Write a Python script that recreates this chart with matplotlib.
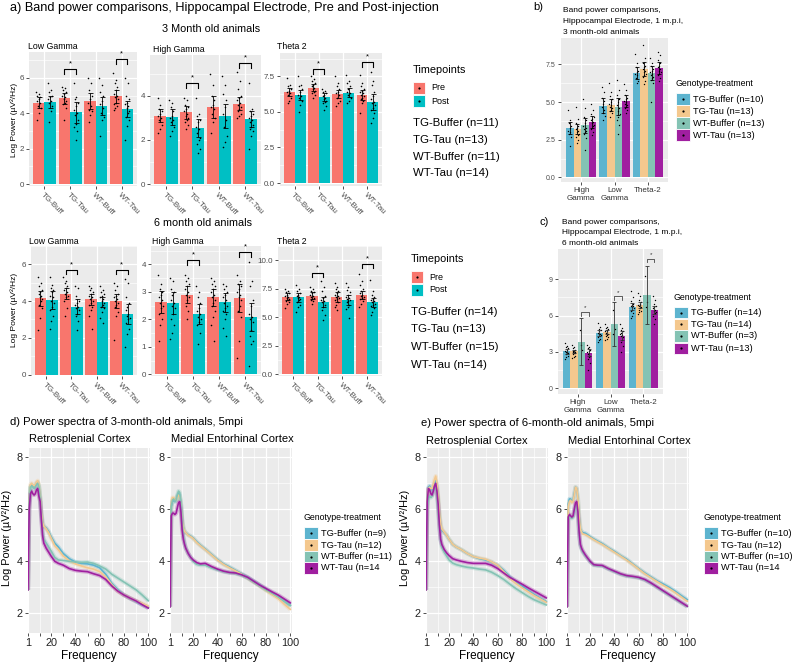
import matplotlib
matplotlib.use('Agg')
import matplotlib.pyplot as plt
from matplotlib.patches import Rectangle
import numpy as np

plt.rcParams['font.family'] = ['Liberation Sans', 'DejaVu Sans']

W, H = 795, 663

# ---------------- panel a : pre / post bars ----------------
groups = ['TG-Buff', 'TG-Tau', 'WT-Buff', 'WT-Tau']
timepoints = ['Pre', 'Post']
tp_colors = ['#F8766D', '#00BFC4']
n_labels_3m = ['TG-Buffer (n=11)', 'TG-Tau (n=13)', 'WT-Buffer (n=11)', 'WT-Tau (n=14)']
n_labels_6m = ['TG-Buffer (n=14)', 'TG-Tau (n=13)', 'WT-Buffer (n=15)', 'WT-Tau (n=14)']

# 3 month, low gamma
lg3_pre = [4.6, 4.85, 4.7, 4.95]
lg3_post = [4.65, 4.05, 4.4, 4.25]
lg3_pre_se = [0.3, 0.3, 0.45, 0.35]
lg3_post_se = [0.35, 0.6, 0.5, 0.45]
lg3_pre_pts = [[5.2, 5.1, 5.0, 4.9, 4.8, 4.7, 4.6, 4.4, 4.3, 4.0, 3.6],
               [5.5, 5.4, 5.3, 5.2, 5.1, 5.0, 4.9, 4.8, 4.7, 4.6, 4.5, 4.3, 3.6],
               [6.0, 5.7, 5.3, 5.0, 4.8, 4.6, 4.4, 4.2, 4.1, 3.9, 3.5],
               [6.3, 5.9, 5.7, 5.5, 5.3, 5.1, 5.0, 4.9, 4.8, 4.6, 4.5, 4.4, 4.3, 4.2]]
lg3_post_pts = [[5.7, 5.3, 5.2, 5.0, 4.9, 4.8, 4.7, 4.6, 4.4, 4.1, 3.5],
                [5.7, 4.9, 4.8, 4.6, 4.4, 4.2, 4.0, 3.9, 3.6, 3.4, 3.2, 3.0, 2.5],
                [6.0, 5.6, 5.2, 5.0, 4.7, 4.5, 4.3, 4.0, 3.8, 3.6, 2.7],
                [6.0, 5.7, 5.0, 4.8, 4.6, 4.5, 4.4, 4.3, 4.1, 4.0, 3.8, 3.6, 3.3, 2.5]]
lg3_sig = [(1, 6.5), (3, 7.05)]

# 3 month, high gamma
hg3_pre = [3.1, 3.25, 3.5, 3.65]
hg3_post = [3.05, 2.55, 3.1, 2.95]
hg3_pre_se = [0.3, 0.3, 0.5, 0.3]
hg3_post_se = [0.35, 0.4, 0.55, 0.35]
hg3_pre_pts = [[3.9, 3.6, 3.4, 3.3, 3.2, 3.1, 3.0, 2.9, 2.7, 2.5, 2.3],
               [3.9, 3.8, 3.6, 3.5, 3.4, 3.3, 3.2, 3.1, 3.0, 2.9, 2.8, 2.7, 2.5],
               [5.0, 4.5, 4.0, 3.8, 3.6, 3.5, 3.4, 3.2, 3.0, 2.8, 2.3],
               [5.1, 4.7, 4.3, 4.0, 3.9, 3.8, 3.7, 3.6, 3.5, 3.4, 3.3, 3.2, 3.1, 3.0]]
hg3_post_pts = [[3.8, 3.7, 3.5, 3.3, 3.1, 3.0, 2.9, 2.8, 2.6, 2.4, 2.2],
                [3.9, 3.2, 3.1, 2.9, 2.8, 2.6, 2.5, 2.3, 2.1, 2.0, 1.8, 1.6, 1.4],
                [4.9, 4.5, 4.1, 3.8, 3.5, 3.2, 2.9, 2.6, 2.2, 1.9, 1.7],
                [4.6, 3.4, 3.3, 3.2, 3.1, 3.0, 2.9, 2.8, 2.7, 2.6, 2.5, 2.4, 2.2, 1.6]]
hg3_sig = [(1, 4.58), (3, 5.5)]

# 3 month, theta 2
th3_pre = [6.4, 6.7, 6.25, 6.2]
th3_post = [6.2, 6.05, 6.35, 5.7]
th3_pre_se = [0.3, 0.25, 0.3, 0.35]
th3_post_se = [0.35, 0.3, 0.3, 0.55]
th3_pre_pts = [[7.4, 6.9, 6.8, 6.6, 6.5, 6.4, 6.3, 6.2, 6.0, 5.8, 5.6],
               [7.5, 7.3, 7.2, 7.0, 6.9, 6.8, 6.7, 6.6, 6.5, 6.4, 6.3, 6.2, 6.0],
               [7.5, 7.0, 6.8, 6.6, 6.4, 6.3, 6.2, 6.0, 5.8, 5.6, 5.4],
               [7.6, 7.0, 6.8, 6.6, 6.5, 6.4, 6.3, 6.2, 6.1, 6.0, 5.9, 5.8, 5.6, 4.9]]
th3_post_pts = [[7.5, 6.9, 6.8, 6.6, 6.4, 6.2, 6.1, 6.0, 5.8, 5.5, 5.0],
                [6.6, 6.5, 6.4, 6.3, 6.2, 6.1, 6.0, 5.9, 5.8, 5.7, 5.6, 5.4, 5.1],
                [7.6, 7.2, 7.0, 6.8, 6.6, 6.4, 6.3, 6.2, 6.0, 5.8, 5.6],
                [7.8, 7.2, 6.9, 6.4, 6.1, 5.9, 5.7, 5.6, 5.5, 5.3, 5.1, 4.9, 4.6, 4.2]]
th3_sig = [(1, 8.0), (3, 8.5)]

# 6 month, low gamma
lg6_pre = [4.15, 4.4, 4.1, 4.0]
lg6_post = [4.05, 3.7, 3.95, 3.3]
lg6_pre_se = [0.4, 0.3, 0.3, 0.4]
lg6_post_se = [0.5, 0.4, 0.25, 0.55]
lg6_pre_pts = [[5.3, 5.0, 4.8, 4.6, 4.5, 4.4, 4.3, 4.2, 4.1, 4.0, 3.8, 3.6, 3.1, 2.4],
               [5.3, 5.1, 5.0, 4.8, 4.7, 4.6, 4.5, 4.4, 4.3, 4.2, 4.0, 3.6, 3.2],
               [4.8, 4.7, 4.6, 4.5, 4.4, 4.3, 4.2, 4.1, 4.0, 3.9, 3.8, 3.7, 3.5, 3.2, 2.5],
               [5.0, 4.8, 4.6, 4.4, 4.3, 4.2, 4.1, 4.0, 3.9, 3.8, 3.7, 3.4, 3.2, 1.9]]
lg6_post_pts = [[5.3, 4.9, 4.7, 4.6, 4.5, 4.3, 4.2, 4.0, 3.9, 3.7, 3.5, 3.2, 2.9, 2.5],
                [4.8, 4.7, 4.3, 4.0, 3.9, 3.8, 3.7, 3.6, 3.5, 3.3, 3.2, 2.9, 2.4],
                [4.8, 4.6, 4.5, 4.4, 4.3, 4.2, 4.1, 4.0, 3.9, 3.8, 3.7, 3.6, 3.4, 3.1, 2.8],
                [5.2, 5.0, 4.2, 3.9, 3.7, 3.5, 3.3, 3.2, 3.1, 3.0, 2.8, 2.5, 2.2, 1.5]]
lg6_sig = [(1, 5.7), (3, 5.7)]

# 6 month, high gamma
hg6_pre = [2.65, 2.9, 2.8, 2.77]
hg6_post = [2.6, 2.2, 2.62, 2.08]
hg6_pre_se = [0.4, 0.3, 0.3, 0.5]
hg6_post_se = [0.4, 0.35, 0.35, 0.5]
hg6_pre_pts = [[3.6, 3.3, 3.1, 3.0, 2.9, 2.8, 2.7, 2.6, 2.5, 2.4, 2.2, 2.0, 1.8, 1.2],
               [3.6, 3.5, 3.4, 3.3, 3.2, 3.1, 3.0, 2.9, 2.8, 2.7, 2.5, 2.3, 2.0],
               [3.5, 3.4, 3.3, 3.2, 3.1, 3.0, 2.9, 2.8, 2.7, 2.6, 2.5, 2.3, 2.1, 1.8, 1.2],
               [3.6, 3.4, 3.3, 3.2, 3.1, 3.0, 2.9, 2.8, 2.7, 2.5, 2.3, 2.1, 1.2, 0.6]]
hg6_post_pts = [[3.5, 3.4, 3.1, 3.0, 2.9, 2.7, 2.6, 2.5, 2.4, 2.2, 2.0, 1.8, 1.5, 1.3],
                [3.2, 3.0, 2.8, 2.6, 2.4, 2.3, 2.2, 2.1, 2.0, 1.9, 1.8, 1.5, 1.1],
                [3.3, 3.2, 3.1, 3.0, 2.9, 2.8, 2.7, 2.6, 2.5, 2.4, 2.3, 2.2, 2.0, 1.7, 1.4],
                [4.1, 3.4, 3.2, 2.7, 2.5, 2.2, 2.1, 2.0, 1.9, 1.6, 1.4, 1.2, 1.1, 0.3]]
hg6_sig = [(1, 4.15), (3, 4.44)]

# 6 month, theta 2
th6_pre = [6.8, 6.9, 6.75, 6.95]
th6_post = [6.75, 6.35, 6.55, 6.3]
th6_pre_se = [0.3, 0.3, 0.45, 0.35]
th6_post_se = [0.4, 0.45, 0.45, 0.4]
th6_pre_pts = [[7.5, 7.3, 7.2, 7.1, 7.0, 6.9, 6.8, 6.7, 6.6, 6.5, 6.4, 6.3, 6.2, 5.8],
               [7.7, 7.5, 7.3, 7.2, 7.1, 7.0, 6.9, 6.8, 6.7, 6.6, 6.5, 6.4, 6.2],
               [8.0, 7.7, 7.5, 7.3, 7.1, 7.0, 6.9, 6.8, 6.7, 6.6, 6.5, 6.3, 6.1, 5.9, 5.6],
               [8.8, 8.2, 7.8, 7.5, 7.3, 7.1, 7.0, 6.9, 6.8, 6.7, 6.6, 6.4, 6.2, 5.9]]
th6_post_pts = [[7.8, 7.5, 7.3, 7.1, 7.0, 6.9, 6.8, 6.7, 6.6, 6.5, 6.3, 6.1, 5.9, 5.5],
                [8.2, 7.7, 7.3, 6.9, 6.7, 6.5, 6.4, 6.3, 6.1, 5.9, 5.6, 5.2, 4.8],
                [8.0, 7.7, 7.4, 7.2, 7.0, 6.8, 6.7, 6.6, 6.5, 6.4, 6.3, 6.1, 5.9, 5.7, 4.9],
                [8.3, 7.3, 7.0, 6.8, 6.6, 6.5, 6.4, 6.3, 6.2, 6.1, 6.0, 5.8, 5.5, 5.2]]
th6_sig = [(1, 8.9), (3, 9.7)]

# ---------------- panels b, c : genotype bars ----------------
bands = ['High\nGamma', 'Low\nGamma', 'Theta-2']
genotypes = ['TG-Buffer', 'TG-Tau', 'WT-Buffer', 'WT-Tau']
geno_colors = ['#5DB4CF', '#F4C88E', '#84C3B4', '#A01FA0']
b_labels = ['TG-Buffer (n=10)', 'TG-Tau (n=13)', 'WT-Buffer (n=13)', 'WT-Tau (n=13)']
c_labels = ['TG-Buffer (n=14)', 'TG-Tau (n=14)', 'WT-Buffer (n=3)', 'WT-Tau (n=13)']

b_means = [[3.25, 4.75, 6.95], [3.2, 4.8, 7.2], [3.45, 4.7, 6.95], [3.7, 5.05, 7.25]]
b_se = [[0.4, 0.5, 0.4], [0.35, 0.4, 0.45], [0.5, 0.55, 0.45], [0.4, 0.4, 0.4]]
b_pts = [[[4.5, 3.8, 3.6, 3.4, 3.3, 3.1, 3.0, 2.9, 2.7, 2.1],
          [6.0, 5.7, 5.3, 5.1, 4.9, 4.7, 4.5, 4.3, 4.1, 3.8],
          [8.2, 7.6, 7.3, 7.1, 7.0, 6.9, 6.8, 6.6, 6.4, 6.3]],
         [[4.7, 3.9, 3.6, 3.4, 3.3, 3.2, 3.1, 3.0, 2.9, 2.8, 2.7, 2.5, 2.3],
          [6.3, 5.7, 5.4, 5.2, 5.0, 4.9, 4.8, 4.7, 4.6, 4.5, 4.4, 4.3, 4.0],
          [8.8, 7.9, 7.6, 7.4, 7.3, 7.2, 7.1, 7.0, 6.9, 6.8, 6.7, 6.4, 6.2]],
         [[5.2, 4.6, 4.0, 3.8, 3.6, 3.4, 3.3, 3.2, 3.1, 3.0, 2.9, 2.6, 1.8],
          [6.5, 5.8, 5.5, 5.2, 5.0, 4.8, 4.6, 4.4, 4.2, 4.0, 3.8, 3.5, 2.9],
          [7.9, 7.6, 7.4, 7.2, 7.1, 7.0, 6.9, 6.8, 6.7, 6.6, 6.5, 6.3, 5.0]],
         [[4.9, 4.5, 4.2, 4.0, 3.9, 3.8, 3.7, 3.6, 3.5, 3.4, 3.2, 3.0, 2.8],
          [6.2, 5.8, 5.5, 5.3, 5.2, 5.1, 5.0, 4.9, 4.8, 4.7, 4.6, 4.5, 4.3],
          [8.3, 8.1, 7.8, 7.6, 7.4, 7.3, 7.2, 7.1, 7.0, 6.9, 6.8, 6.6, 6.4]]]

c_means = [[3.05, 4.55, 6.75], [3.05, 4.65, 6.85], [3.85, 5.3, 7.7], [2.95, 4.35, 6.45]]
c_se = [[0.2, 0.25, 0.3], [0.15, 0.2, 0.25], [1.93, 1.83, 2.4], [0.3, 0.35, 0.35]]
c_pts = [[[3.7, 3.5, 3.4, 3.3, 3.2, 3.1, 3.0, 3.0, 2.9, 2.9, 2.8, 2.7, 2.6, 2.4],
          [5.4, 5.1, 4.9, 4.8, 4.7, 4.6, 4.5, 4.5, 4.4, 4.3, 4.2, 4.1, 4.0, 3.8],
          [8.0, 7.5, 7.2, 7.0, 6.9, 6.8, 6.8, 6.7, 6.6, 6.5, 6.4, 6.2, 6.0, 5.8]],
         [[3.6, 3.4, 3.3, 3.2, 3.1, 3.1, 3.0, 3.0, 2.9, 2.9, 2.8, 2.7, 2.6, 2.5],
          [5.3, 5.1, 5.0, 4.9, 4.8, 4.7, 4.7, 4.6, 4.5, 4.4, 4.3, 4.2, 4.1, 4.0],
          [7.9, 7.6, 7.3, 7.1, 7.0, 6.9, 6.9, 6.8, 6.7, 6.6, 6.5, 6.4, 6.3, 6.1]],
         [[4.8, 3.2, 3.55], [6.5, 4.9, 4.5], [9.3, 7.1, 6.7]],
         [[3.6, 3.4, 3.3, 3.2, 3.1, 3.0, 2.9, 2.8, 2.7, 2.6, 2.4, 2.1, 1.5],
          [5.3, 5.0, 4.8, 4.7, 4.6, 4.5, 4.4, 4.3, 4.2, 4.0, 3.8, 3.5, 3.0],
          [7.6, 7.3, 7.0, 6.8, 6.7, 6.6, 6.5, 6.4, 6.3, 6.2, 6.0, 5.7, 5.3]]]
c_sig = [6.3, 7.6, 10.7]

# ---------------- panels d, e : power spectra ----------------
freqs = [1, 2, 3, 4, 5, 6, 7, 8, 9, 10, 11, 12, 13, 14, 16, 18, 20, 23, 26, 30,
         35, 40, 45, 50, 55, 60, 65, 70, 75, 80, 85, 90, 95, 100]
d_labels = ['TG-Buffer (n=9)', 'TG-Tau (n=12)', 'WT-Buffer (n=11)', 'WT-Tau (n=14']
e_labels = ['TG-Buffer (n=10)', 'TG-Tau (n=12)', 'WT-Buffer (n=10)', 'WT-Tau (n=14']

d_rsc = [[2.9, 6.2, 6.85, 6.95, 6.9, 6.85, 6.9, 7.0, 7.05, 6.9, 6.45, 5.85, 5.5, 5.35, 5.28, 5.15, 4.95, 4.7,
          4.55, 4.3, 4.1, 3.97, 3.92, 3.9, 3.85, 3.75, 3.5, 3.15, 2.9, 2.7, 2.57, 2.45, 2.33, 2.22],
         [2.9, 6.3, 6.95, 7.0, 6.95, 6.9, 6.95, 7.05, 7.1, 6.95, 6.5, 5.9, 5.5, 5.35, 5.25, 5.1, 4.9, 4.6,
          4.45, 4.2, 4.02, 3.9, 3.82, 3.75, 3.7, 3.6, 3.4, 3.1, 2.85, 2.7, 2.58, 2.47, 2.38, 2.27],
         [2.9, 6.2, 6.85, 6.9, 6.85, 6.8, 6.85, 6.95, 7.0, 6.85, 6.4, 5.7, 5.1, 4.85, 4.7, 4.55, 4.4, 4.15,
          4.05, 4.03, 4.0, 3.97, 3.96, 3.97, 3.92, 3.82, 3.7, 3.5, 3.35, 3.2, 3.05, 2.9, 2.7, 2.48],
         [2.9, 6.0, 6.6, 6.7, 6.6, 6.55, 6.6, 6.75, 6.8, 6.5, 6.3, 5.6, 5.0, 4.7, 4.5, 4.35, 4.2, 4.0,
          3.92, 3.85, 3.72, 3.65, 3.62, 3.6, 3.52, 3.45, 3.3, 3.05, 2.85, 2.7, 2.58, 2.47, 2.33, 2.2]]
d_mec = [[2.25, 6.1, 6.3, 6.35, 6.3, 6.35, 6.5, 6.6, 6.55, 6.25, 5.6, 5.3, 5.15, 5.1, 5.02, 4.97, 4.9, 4.75,
          4.62, 4.47, 4.27, 4.07, 3.9, 3.78, 3.65, 3.52, 3.38, 3.23, 3.08, 2.92, 2.78, 2.63, 2.47, 2.3],
         [2.25, 6.2, 6.45, 6.45, 6.35, 6.35, 6.45, 6.55, 6.5, 6.2, 5.6, 5.3, 5.15, 5.1, 5.0, 4.95, 4.88, 4.72,
          4.6, 4.45, 4.25, 4.05, 3.88, 3.75, 3.63, 3.5, 3.35, 3.2, 3.05, 2.88, 2.72, 2.57, 2.35, 2.15],
         [2.25, 6.1, 6.35, 6.4, 6.3, 6.35, 6.55, 6.7, 6.65, 6.2, 5.5, 5.0, 4.7, 4.5, 4.3, 4.15, 4.0, 3.88,
          3.85, 3.85, 3.75, 3.67, 3.6, 3.56, 3.53, 3.46, 3.35, 3.2, 3.05, 2.9, 2.77, 2.63, 2.47, 2.3],
         [2.25, 5.75, 5.85, 5.85, 5.8, 5.85, 6.05, 6.25, 6.3, 5.9, 5.2, 4.85, 4.65, 4.5, 4.3, 4.15, 4.05, 3.95,
          3.9, 3.92, 3.8, 3.7, 3.62, 3.57, 3.55, 3.48, 3.38, 3.23, 3.08, 2.95, 2.82, 2.7, 2.55, 2.4]]
e_rsc = [[2.9, 6.4, 6.85, 6.9, 6.8, 6.75, 6.85, 7.0, 7.1, 6.9, 6.4, 5.8, 5.4, 5.2, 5.1, 5.0, 4.85, 4.65,
          4.55, 4.45, 4.3, 4.18, 4.1, 4.05, 3.97, 3.85, 3.65, 3.4, 3.2, 3.05, 2.88, 2.72, 2.58, 2.45],
         [2.9, 6.4, 6.8, 6.85, 6.8, 6.8, 6.95, 7.15, 7.28, 7.0, 6.5, 5.9, 5.45, 5.25, 5.12, 5.0, 4.85, 4.65,
          4.55, 4.45, 4.3, 4.18, 4.12, 4.08, 3.98, 3.85, 3.6, 3.35, 3.15, 2.98, 2.83, 2.68, 2.55, 2.42],
         [2.9, 6.1, 6.45, 6.5, 6.45, 6.5, 6.7, 6.85, 6.9, 6.6, 6.0, 5.3, 4.8, 4.55, 4.35, 4.2, 4.05, 3.93,
          3.87, 3.82, 3.77, 3.74, 3.7, 3.67, 3.58, 3.45, 3.3, 3.12, 2.95, 2.8, 2.65, 2.52, 2.42, 2.32],
         [2.9, 6.3, 6.8, 6.75, 6.6, 6.55, 6.7, 6.9, 7.0, 6.7, 6.2, 5.4, 4.85, 4.65, 4.45, 4.32, 4.22, 4.1,
          4.05, 4.0, 3.95, 3.92, 3.92, 3.92, 3.85, 3.72, 3.55, 3.38, 3.25, 3.12, 2.98, 2.85, 2.72, 2.59]]
e_mec = [[2.25, 6.2, 6.4, 6.4, 6.3, 6.35, 6.6, 6.85, 6.8, 6.4, 5.7, 5.25, 5.15, 5.1, 5.08, 5.02, 4.95, 4.86,
          4.78, 4.68, 4.52, 4.38, 4.22, 4.08, 3.9, 3.72, 3.55, 3.4, 3.25, 3.13, 3.0, 2.85, 2.68, 2.52],
         [2.25, 6.1, 6.3, 6.35, 6.25, 6.3, 6.55, 6.85, 6.8, 6.4, 5.7, 5.25, 5.12, 5.05, 5.03, 4.98, 4.92, 4.83,
          4.75, 4.65, 4.5, 4.35, 4.2, 4.05, 3.88, 3.7, 3.52, 3.37, 3.22, 3.08, 2.95, 2.8, 2.63, 2.46],
         [2.25, 5.6, 5.75, 5.7, 5.65, 5.7, 5.9, 6.15, 6.2, 5.8, 5.0, 4.6, 4.45, 4.35, 4.22, 4.1, 3.98, 3.85,
          3.83, 3.82, 3.7, 3.6, 3.5, 3.43, 3.4, 3.36, 3.28, 3.15, 3.0, 2.85, 2.7, 2.55, 2.4, 2.26],
         [2.25, 5.7, 5.8, 5.75, 5.7, 5.75, 6.0, 6.25, 6.3, 5.9, 5.1, 4.65, 4.5, 4.4, 4.25, 4.12, 4.0, 3.87,
          3.85, 3.84, 3.72, 3.62, 3.52, 3.45, 3.42, 3.38, 3.3, 3.17, 3.02, 2.87, 2.72, 2.57, 2.42, 2.27]]


fig = plt.figure(figsize=(W / 100, H / 100), dpi=100)

# overlay in pixel coords for titles and legends
ax0 = fig.add_axes([0, 0, 1, 1])
ax0.set_xlim(0, W)
ax0.set_ylim(H, 0)
ax0.axis('off')


def put(x, y, s, fs, ha='left', **kw):
    ax0.text(x, y, s, fontsize=fs, ha=ha, va='center', **kw)


def px_axes(l, t, r, b):
    return fig.add_axes([l / W, 1 - b / H, (r - l) / W, (b - t) / H])


def gg_style(ax, fs=5.8, tc='#4D4D4D'):
    ax.set_facecolor('#EBEBEB')
    for s in ax.spines.values():
        s.set_visible(False)
    ax.set_axisbelow(True)
    ax.grid(True, which='major', color='white', lw=0.9)
    ax.grid(True, which='minor', color='white', lw=0.45)
    ax.tick_params(which='major', length=2.2, width=0.6, color='#333333',
                   labelsize=fs, labelcolor=tc, pad=1.5)
    ax.tick_params(which='minor', length=0)


def jit(n, w):
    return ((np.arange(n) * 0.618034) % 1 - 0.5) * w


def bar_panel(box, ylim, yticks, yticklabels, pre, post, pre_se, post_se,
              pre_pts, post_pts, sig):
    ax = px_axes(*box)
    gg_style(ax)
    x = np.arange(len(groups))
    for k, (m, se, pts) in enumerate([(pre, pre_se, pre_pts), (post, post_se, post_pts)]):
        xs = x + (k - 0.5) * 0.45
        ax.bar(xs, m, 0.45, color=tp_colors[k], zorder=2)
        ax.errorbar(xs, m, yerr=se, fmt='none', ecolor='black', elinewidth=0.6,
                    capsize=1.8, capthick=0.6, zorder=5)
        for xi, p in zip(xs, pts):
            ax.scatter(xi + jit(len(p), 0.18), p, s=1.3, color='black', lw=0, zorder=4)
    rng = ylim[1] - ylim[0]
    for g, h in sig:
        ax.plot([g - 0.225, g - 0.225, g + 0.225, g + 0.225],
                [h - 0.035 * rng, h, h, h - 0.035 * rng], color='black', lw=0.8, zorder=6)
        ax.text(g, h + 0.015 * rng, '*', ha='center', va='bottom', fontsize=5.5)
    ax.set_xlim(-0.6, 3.6)
    ax.set_ylim(*ylim)
    ax.set_yticks(yticks)
    ax.set_yticklabels(yticklabels)
    ax.set_yticks([(a + b) / 2 for a, b in zip(yticks[:-1], yticks[1:])] +
                  [yticks[-1] + (yticks[1] - yticks[0]) / 2], minor=True)
    ax.set_xticks(x)
    ax.set_xticklabels(groups, rotation=-45, ha='left', va='top',
                       rotation_mode='anchor', fontsize=5.8)
    return ax


def geno_panel(box, ylim, yticks, yticklabels, means, se, pts, sig=None, ecol='black'):
    ax = px_axes(*box)
    gg_style(ax, fs=5.0)
    x = np.arange(len(bands))
    for k in range(4):
        xs = x + (k - 1.5) * 0.225
        ax.bar(xs, means[k], 0.225, color=geno_colors[k], zorder=2)
        ax.errorbar(xs, means[k], yerr=se[k], fmt='none', ecolor=ecol, elinewidth=0.6,
                    capsize=1.5, capthick=0.6, zorder=5)
        for xi, p in zip(xs, pts[k]):
            ax.scatter(xi + jit(len(p), 0.1), p, s=1.0, color='black', lw=0, zorder=4)
    if sig is not None:
        rng = ylim[1] - ylim[0]
        for g, h in zip(x, sig):
            x1, x2 = g + 0.5 * 0.225, g + 1.5 * 0.225
            ax.plot([x1, x1, x2, x2], [h - 0.025 * rng, h, h, h - 0.025 * rng],
                    color='#444444', lw=0.6, zorder=6)
            ax.text((x1 + x2) / 2, h + 0.01 * rng, '*', ha='center', va='bottom',
                    fontsize=4.5, color='#333333')
    ax.set_xlim(-0.6, 2.6)
    ax.set_ylim(*ylim)
    ax.set_yticks(yticks)
    ax.set_yticklabels(yticklabels)
    ax.set_yticks([(a + b) / 2 for a, b in zip(yticks[:-1], yticks[1:])], minor=True)
    ax.set_xticks(x)
    ax.set_xticklabels(bands, fontsize=5.8, color='#333333')
    return ax


def spec_panel(box, series):
    ax = px_axes(*box)
    gg_style(ax, fs=7.8, tc='#222222')
    for k, vals in enumerate(series):
        ax.plot(freqs, vals, color=geno_colors[k], lw=3.0, alpha=0.3, zorder=2,
                solid_capstyle='butt')
        ax.plot(freqs, vals, color=geno_colors[k], lw=1.2, zorder=3)
    ax.set_xlim(1, 101.4)
    ax.set_ylim(1.24, 8.36)
    ax.set_xticks([1, 20, 40, 60, 80, 100])
    ax.set_xticks([10.5, 30, 50, 70, 90], minor=True)
    ax.set_yticks([2, 4, 6, 8])
    ax.set_yticks([3, 5, 7], minor=True)
    ax.tick_params(axis='x', which='minor', length=2, width=0.6, color='#333333')
    ax.set_xlabel('Frequency', fontsize=8.5, labelpad=1)
    return ax


def key(x, yc, color, w=12, h=12):
    ax0.add_patch(Rectangle((x, yc - h / 2), w, h, facecolor=color, edgecolor='white', lw=0.6))
    ax0.plot(x + w / 2, yc, 'o', color='black', ms=1.6, mew=0)


# ---------------- panel a ----------------
put(10, 8, 'a) Band power comparisons, Hippocampal Electrode, Pre and Post-injection', 9.2)
put(211, 28.5, '3 Month old animals', 7.8, ha='center')
put(203, 223, '6 month old animals', 7.8, ha='center')

bar_panel((29, 52, 137, 186), (-0.11, 7.46), [0, 2, 4, 6], ['0', '2', '4', '6'],
          lg3_pre, lg3_post, lg3_pre_se, lg3_post_se, lg3_pre_pts, lg3_post_pts, lg3_sig)
bar_panel((150, 55, 261, 186), (-0.09, 5.86), [0, 2, 4], ['0', '2', '4'],
          hg3_pre, hg3_post, hg3_pre_se, hg3_post_se, hg3_pre_pts, hg3_post_pts, hg3_sig)
bar_panel((280, 53, 382, 186), (-0.21, 9.14), [0, 2.5, 5, 7.5], ['0.0', '2.5', '5.0', '7.5'],
          th3_pre, th3_post, th3_pre_se, th3_post_se, th3_pre_pts, th3_post_pts, th3_sig)

bar_panel((31, 246, 137, 376), (-0.08, 6.1), [0, 2, 4, 6], ['0', '2', '4', '6'],
          lg6_pre, lg6_post, lg6_pre_se, lg6_post_se, lg6_pre_pts, lg6_post_pts, lg6_sig)
bar_panel((151, 246, 261, 376), (-0.06, 4.67), [0, 1, 2, 3, 4], ['0', '1', '2', '3', '4'],
          hg6_pre, hg6_post, hg6_pre_se, hg6_post_se, hg6_pre_pts, hg6_post_pts, hg6_sig)
bar_panel((278, 246, 382, 376), (-0.14, 10.3), [0, 2.5, 5, 7.5, 10],
          ['0.0', '2.5', '5.0', '7.5', '10.0'],
          th6_pre, th6_post, th6_pre_se, th6_post_se, th6_pre_pts, th6_post_pts, th6_sig)

for (x, y, s) in [(28, 46.5, 'Low Gamma'), (153, 50, 'High Gamma'), (277, 46.5, 'Theta 2'),
                  (29, 241, 'Low Gamma'), (152, 241, 'High Gamma'), (277, 241, 'Theta 2')]:
    put(x, y, s, 6.3)
put(14, 120, 'Log Power (µV²/Hz)', 6.0, ha='center', rotation=90)
put(14, 310, 'Log Power (µV²/Hz)', 6.0, ha='center', rotation=90)

# timepoint legends
for (lx, ty, ys, gys, labs) in [(413, 70, [88, 101], [123, 140, 157, 173], n_labels_3m),
                                (411, 259, [277, 290], [312, 329, 347, 365.5], n_labels_6m)]:
    put(lx, ty, 'Timepoints', 7.8)
    for k in range(2):
        key(lx, ys[k], tp_colors[k])
        put(lx + 18, ys[k], timepoints[k], 6.5)
    for yy, s in zip(gys, labs):
        put(lx, yy, s, 8.2)

# ---------------- panels b, c ----------------
put(533, 7, 'b)', 8)
for yy, s in zip([11, 21.5, 32], ['Band power comparisons,', 'Hippocampal Electrode, 1 m.p.i,',
                                   '3 month-old animals']):
    put(563, yy, s, 6.0)
geno_panel((561, 38, 668, 182), (-0.31, 9.26), [0, 2.5, 5, 7.5], ['0.0', '2.5', '5.0', '7.5'],
           b_means, b_se, b_pts)

put(540, 222, 'c)', 8)
for yy, s in zip([222, 233, 243.5], ['Band power comparisons,', 'Hippocampal Electrode, 1 m.p.i,',
                                      '6 month-old animals']):
    put(562, yy, s, 6.0)
geno_panel((558, 249, 663, 394), (-0.47, 11.5), [0, 3, 6, 9], ['0', '3', '6', '9'],
           c_means, c_se, c_pts, sig=c_sig, ecol='#333333')

for (lx, ty, ys, labs) in [(676, 83, [99, 111, 123, 135], b_labels),
                           (674, 297, [312.7, 324.3, 336, 348.3], c_labels),
                           (304, 517, [533, 545, 556.5, 568], d_labels),
                           (704, 517, [533, 545, 556.5, 568], e_labels)]:
    put(lx, ty, 'Genotype-treatment', 6.3)
    for k in range(4):
        key(lx, ys[k], geno_colors[k], w=14, h=11.5)
        put(lx + 17, ys[k], labs[k], 6.7)

# ---------------- panels d, e ----------------
put(10, 422, 'd) Power spectra of 3-month-old animals, 5mpi', 8.1)
put(421, 423, 'e) Power spectra of 6-month-old animals, 5mpi', 8.1)

spec_panel((28, 448, 150, 633), d_rsc)
spec_panel((170, 448, 292, 633), d_mec)
spec_panel((426, 448, 548, 633), e_rsc)
spec_panel((567, 448, 689, 633), e_mec)

put(29, 439, 'Retrosplenial Cortex', 8.0)
put(171, 439, 'Medial Entorhinal Cortex', 8.0)
put(426, 441, 'Retrosplenial Cortex', 8.0)
put(568, 441, 'Medial Entorhinal Cortex', 8.0)
put(7, 538, 'Log Power (µV²/Hz)', 7.8, ha='center', rotation=90)
put(405, 538, 'Log Power (µV²/Hz)', 7.8, ha='center', rotation=90)

fig.savefig('out.png', dpi=100)
